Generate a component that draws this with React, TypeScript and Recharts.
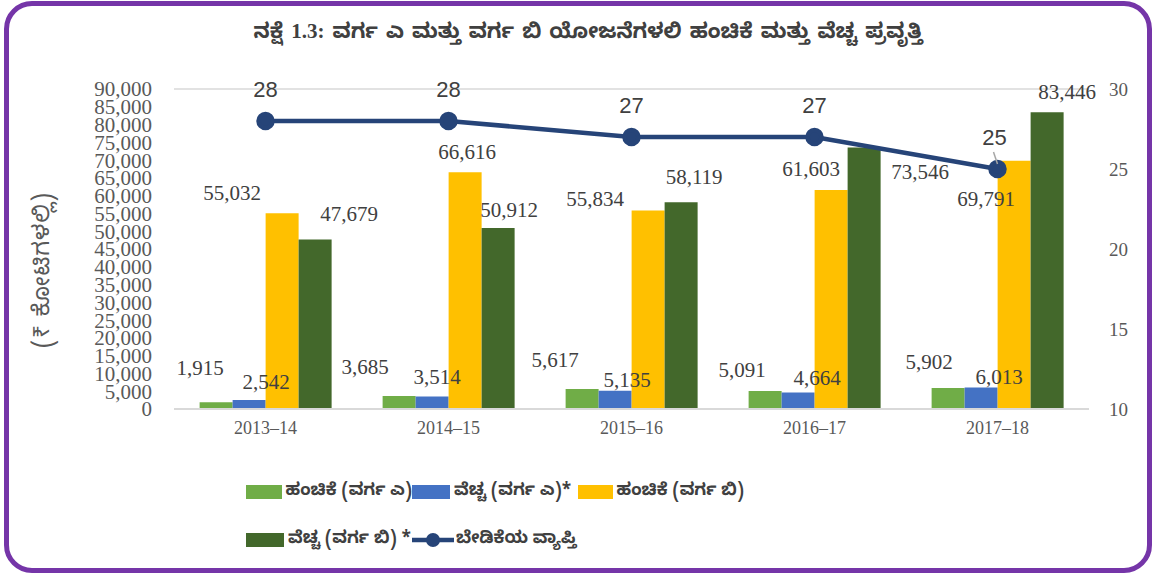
import { ComposedChart, Bar, Line, XAxis, YAxis, CartesianGrid, LabelList } from 'recharts'

const years = ['2013–14', '2014–15', '2015–16', '2016–17', '2017–18']
const allocA = [1915, 3685, 5617, 5091, 5902]
const spendA = [2542, 3514, 5135, 4664, 6013]
const allocB = [55032, 66616, 55834, 61603, 69791]
const spendB = [47679, 50912, 58119, 73546, 83446]
const coverage = [28, 28, 27, 27, 25]
const leftTicks = [0, 5000, 10000, 15000, 20000, 25000, 30000, 35000, 40000, 45000, 50000, 55000, 60000, 65000, 70000, 75000, 80000, 85000, 90000]
const rightTicks = [10, 15, 20, 25, 30]

// label nudges (dx, height above bar top), Excel placed them by hand
const nudgeAllocA = [[-16, 34], [-34, 29], [-27, 29], [-23, 21], [-19, 26]]
const nudgeSpendA = [[17, 18], [5, 20], [12, 11], [19, 14], [18, 11]]
const nudgeAllocB = [[-50, 20], [2, 20], [-53, 11], [-20, 21], [-28, -38]]
const nudgeSpendB = [[34, 25], [11, 18], [13, 25], [56, -24], [20, 20]]

const data = years.map((year, i) => ({
	year,
	allocA: allocA[i],
	spendA: spendA[i],
	allocB: allocB[i],
	spendB: spendB[i],
	coverage: coverage[i],
}))

const series = [
	{ key: 'allocA', name: 'ಹಂಚಿಕೆ (ವರ್ಗ ಎ)', color: '#70ad47', nudge: nudgeAllocA },
	{ key: 'spendA', name: 'ವೆಚ್ಚ (ವರ್ಗ ಎ)*', color: '#4472c4', nudge: nudgeSpendA },
	{ key: 'allocB', name: 'ಹಂಚಿಕೆ (ವರ್ಗ ಬಿ)', color: '#ffc000', nudge: nudgeAllocB },
	{ key: 'spendB', name: 'ವೆಚ್ಚ (ವರ್ಗ ಬಿ) *', color: '#43682b', nudge: nudgeSpendB },
]
const lineName = 'ಬೇಡಿಕೆಯ ವ್ಯಾಪ್ತಿ'
const lineColor = '#264478'

const serif = '"Liberation Serif", "Times New Roman", serif'
const kannada = '"Noto Sans Kannada", "Noto Serif Kannada", "Lohit Kannada", "Noto Sans", sans-serif'

const makeBarLabel = (nudge: number[][]) => (props: any) => {
	const { x, y, width, value, index } = props
	const [dx, dy] = nudge[index] || [0, 15]
	return (
		<text
			x={Number(x) + Number(width) / 2 + dx}
			y={Number(y) - dy}
			textAnchor='middle'
			dominantBaseline='central'
			fill='#404040'
			fontSize={21}
			fontFamily={serif}
		>
			{Number(value).toLocaleString('en-US')}
		</text>
	)
}

// the 25 label sits a little off its point, with a short grey leader
const lineLabel = (props: any) => {
	const { x, y, value, index } = props
	const last = index === coverage.length - 1
	return (
		<g>
			{last && <line x1={x - 4} y1={y - 17} x2={x} y2={y - 5} stroke='#a6a6a6' strokeWidth={1.5} />}
			<text
				x={x - (last ? 3 : 0)}
				y={y - 32}
				textAnchor='middle'
				dominantBaseline='central'
				fill='#404040'
				fontSize={22}
				fontFamily='"Liberation Sans", Arial, sans-serif'
			>
				{value}
			</text>
		</g>
	)
}

const App = () => {
	return (
		<div style={{ position: 'absolute', left: 0, top: 0, width: 1160, height: 576, background: '#fff' }}>
			<div
				style={{
					position: 'absolute',
					left: 4,
					top: 1,
					width: 1148,
					height: 572,
					border: '5px solid #7535a8',
					borderRadius: 28,
					boxSizing: 'border-box',
				}}
			/>
			<div
				style={{
					position: 'absolute',
					left: 0,
					width: 1176,
					top: 19,
					textAlign: 'center',
					fontFamily: kannada,
					fontWeight: 'bold',
					fontSize: 21,
					wordSpacing: 2,
					color: '#404040',
				}}
			>
				ನಕ್ಷೆ <span style={{ fontFamily: serif }}>1.3:</span> ವರ್ಗ ಎ ಮತ್ತು ವರ್ಗ ಬಿ ಯೋಜನೆಗಳಲಿ ಹಂಚಿಕೆ ಮತ್ತು ವೆಚ್ಚ ಪ್ರವೃತ್ತಿ
			</div>
			<div
				style={{
					position: 'absolute',
					left: 45,
					top: 270,
					transform: 'translate(-50%, -50%) rotate(-90deg)',
					whiteSpace: 'nowrap',
					fontFamily: kannada,
					fontSize: 23,
					letterSpacing: 1,
					color: '#595959',
				}}
			>
				(₹ ಕೋಟಿಗಳಲ್ಲಿ)
			</div>
			<div style={{ position: 'absolute', left: 0, top: 0 }}>
				<ComposedChart
					width={1160}
					height={576}
					data={data}
					margin={{ top: 89, left: 114, right: 11, bottom: 137 }}
					barCategoryGap='14%'
					barGap={0}
				>
					<CartesianGrid vertical={false} stroke='#d9d9d9' strokeWidth={1.5} />
					<XAxis
						dataKey='year'
						height={30}
						tickLine={false}
						axisLine={{ stroke: '#d9d9d9', strokeWidth: 2 }}
						tick={{ fill: '#595959', fontSize: 18, fontFamily: serif }}
						tickMargin={6}
					/>
					<YAxis
						yAxisId='left'
						width={60}
						domain={[0, 90000]}
						ticks={leftTicks}
						interval={0}
						axisLine={false}
						tickLine={false}
						tickSize={20}
						tickMargin={2}
						tickFormatter={(v: number) => v.toLocaleString('en-US')}
						tick={{ fill: '#595959', fontSize: 21, fontFamily: serif }}
					/>
					<YAxis
						yAxisId='right'
						orientation='right'
						width={60}
						domain={[10, 30]}
						ticks={rightTicks}
						interval={0}
						axisLine={false}
						tickLine={false}
						tickSize={18}
						tickMargin={2}
						tick={{ fill: '#595959', fontSize: 19, fontFamily: serif }}
					/>
					{series.map(s => (
						<Bar key={s.key} yAxisId='left' dataKey={s.key} name={s.name} fill={s.color} isAnimationActive={false}>
							<LabelList dataKey={s.key} content={makeBarLabel(s.nudge)} />
						</Bar>
					))}
					<Line
						yAxisId='right'
						dataKey='coverage'
						name={lineName}
						stroke={lineColor}
						strokeWidth={4.5}
						dot={{ r: 7, fill: lineColor, stroke: lineColor }}
						isAnimationActive={false}
					>
						<LabelList dataKey='coverage' content={lineLabel} />
					</Line>
				</ComposedChart>
			</div>
			<div
				style={{
					position: 'absolute',
					left: 246,
					top: 478,
					width: 520,
					display: 'flex',
					flexWrap: 'wrap',
					rowGap: 20,
					fontFamily: kannada,
					fontWeight: 'bold',
					fontSize: 17,
					color: '#404040',
				}}
			>
				{series.map(s => (
					<div key={s.key} style={{ width: 166, display: 'flex', alignItems: 'center', height: 28 }}>
						<span style={{ display: 'inline-block', width: 38, height: 14, background: s.color, marginRight: 4 }} />
						<span style={{ whiteSpace: 'nowrap' }}>{s.name}</span>
					</div>
				))}
				<div style={{ display: 'flex', alignItems: 'center', height: 28 }}>
					<svg width={42} height={16} style={{ marginRight: 2 }}>
						<line x1={0} y1={8} x2={42} y2={8} stroke={lineColor} strokeWidth={4.5} />
						<circle cx={21} cy={8} r={7} fill={lineColor} />
					</svg>
					<span style={{ whiteSpace: 'nowrap' }}>{lineName}</span>
				</div>
			</div>
		</div>
	)
}

export default App
